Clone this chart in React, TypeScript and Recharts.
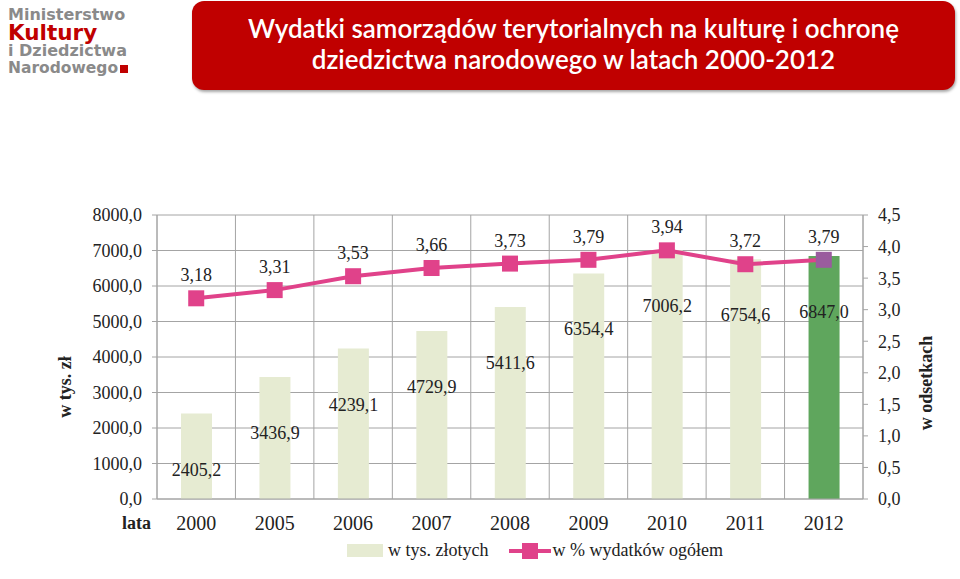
import React from 'react';
import {
  ComposedChart,
  Bar,
  Line,
  XAxis,
  YAxis,
  CartesianGrid,
  Cell,
  LabelList,
} from 'recharts';

const years = ['2000', '2005', '2006', '2007', '2008', '2009', '2010', '2011', '2012'];
const spendingThousandPln = [2405.2, 3436.9, 4239.1, 4729.9, 5411.6, 6354.4, 7006.2, 6754.6, 6847.0];
const sharePercent = [3.18, 3.31, 3.53, 3.66, 3.73, 3.79, 3.94, 3.72, 3.79];
const leftTicks = [0, 1000, 2000, 3000, 4000, 5000, 6000, 7000, 8000];
const rightTicks = [0, 0.5, 1, 1.5, 2, 2.5, 3, 3.5, 4, 4.5];

const title1 = 'Wydatki samorządów terytorialnych na kulturę i ochronę';
const title2 = 'dziedzictwa narodowego w latach 2000-2012';
const leftAxisTitle = 'w tys. zł';
const rightAxisTitle = 'w odsetkach';
const xAxisTitle = 'lata';
const legendBars = 'w tys. złotych';
const legendLine = 'w % wydatków ogółem';
const logoLines = ['Ministerstwo', 'Kultury', 'i Dziedzictwa', 'Narodowego'];

const data = years.map((y, i) => ({
  year: y,
  spending: spendingThousandPln[i],
  share: sharePercent[i],
}));

const SERIF = '"Liberation Serif", "Times New Roman", serif';
const LOGO_FONT = '"DejaVu Sans", sans-serif';
const LIGHT = '#e6ebd2';
const DARK = '#5fa65d';
const PINK = '#e0428a';
const PURPLE = '#9a5c9e';
const GRID = '#a4a4a4';
const TEXT = '#222';
const RED = '#c00000';
const LOGO_GREY = '#8a8a8a';

const fmt1 = (v: number) => v.toFixed(1).replace('.', ',');
const fmt2 = (v: number) => v.toFixed(2).replace('.', ',');

const BarLabel = (props: any) => {
  const { x, y, width, value } = props;
  return (
    <text
      x={x + width / 2}
      y={y + 62}
      textAnchor="middle"
      fontFamily={SERIF}
      fontSize={18}
      fill={TEXT}
    >
      {fmt1(Number(value))}
    </text>
  );
};

const SquareDot = (props: any) => {
  const { cx, cy, index } = props;
  if (cx == null || cy == null) return null;
  return (
    <rect
      key={`dot-${index}`}
      x={cx - 8}
      y={cy - 8}
      width={16}
      height={16}
      fill={index === years.length - 1 ? PURPLE : PINK}
    />
  );
};

const LataLabel = (props: any) => {
  const vb = props.viewBox || {};
  return (
    <text
      x={vb.x - 6}
      y={vb.y + 30}
      textAnchor="end"
      fontFamily={SERIF}
      fontWeight="bold"
      fontSize={18}
      fill={TEXT}
    >
      {xAxisTitle}
    </text>
  );
};

const LeftTitle = (props: any) => {
  const vb = props.viewBox || {};
  const cx = 65;
  const cy = vb.y + vb.height / 2 + 30;
  return (
    <text
      x={cx}
      y={cy}
      transform={`rotate(-90 ${cx} ${cy})`}
      textAnchor="middle"
      dominantBaseline="central"
      fontFamily={SERIF}
      fontWeight="bold"
      fontSize={18}
      fill={TEXT}
    >
      {leftAxisTitle}
    </text>
  );
};

const RightTitle = (props: any) => {
  const vb = props.viewBox || {};
  const cx = 926;
  const cy = vb.y + vb.height / 2 + 26;
  return (
    <text
      x={cx}
      y={cy}
      transform={`rotate(-90 ${cx} ${cy})`}
      textAnchor="middle"
      dominantBaseline="central"
      fontFamily={SERIF}
      fontWeight="bold"
      fontSize={18}
      fill={TEXT}
    >
      {rightAxisTitle}
    </text>
  );
};

const logoLineStyle = (
  top: number,
  size: number,
  lineHeight: number,
  color: string
): React.CSSProperties => ({
  position: 'absolute',
  left: 8,
  top,
  fontFamily: LOGO_FONT,
  fontWeight: 'bold',
  fontSize: size,
  lineHeight: `${lineHeight}px`,
  height: lineHeight,
  color,
  whiteSpace: 'nowrap',
});

export default function App() {
  return (
    <div
      style={{
        position: 'absolute',
        left: 0,
        top: 0,
        width: 960,
        height: 579,
        background: '#ffffff',
        overflow: 'hidden',
      }}
    >
      {/* Logo */}
      <div style={logoLineStyle(7.5, 16, 14, LOGO_GREY)}>{logoLines[0]}</div>
      <div style={logoLineStyle(23, 21.5, 19, RED)}>{logoLines[1]}</div>
      <div style={logoLineStyle(43.5, 16, 14, LOGO_GREY)}>{logoLines[2]}</div>
      <div style={logoLineStyle(60.5, 15.5, 14, LOGO_GREY)}>
        {logoLines[3]}
        <span
          style={{
            display: 'inline-block',
            width: 8,
            height: 8,
            background: RED,
            marginLeft: 2,
          }}
        />
      </div>

      {/* Title banner */}
      <div
        style={{
          position: 'absolute',
          left: 192,
          top: 1,
          width: 763,
          height: 89,
          background: RED,
          borderRadius: 12,
          boxShadow: '1px 2px 3px rgba(0,0,0,0.35)',
          color: '#ffffff',
          fontFamily: 'Lato, "Open Sans", sans-serif',
          fontWeight: 600,
          fontSize: 26,
          lineHeight: '31px',
          textAlign: 'center',
          paddingTop: 12,
          boxSizing: 'border-box',
        }}
      >
        <div>{title1}</div>
        <div>{title2}</div>
      </div>

      {/* Chart */}
      <div style={{ position: 'absolute', left: 0, top: 0 }}>
        <ComposedChart
          width={960}
          height={579}
          data={data}
          margin={{ top: 215, right: 37, bottom: 50, left: 77 }}
        >
          <CartesianGrid
            yAxisId="left"
            stroke={GRID}
            strokeWidth={1}
            verticalCoordinatesGenerator={({ offset }: any) => {
              const n = years.length;
              const pts: number[] = [];
              for (let i = 0; i <= n; i++) pts.push(offset.left + (i * offset.width) / n);
              return pts;
            }}
          />
          <XAxis
            dataKey="year"
            height={30}
            axisLine={{ stroke: GRID }}
            tickLine={false}
            tickMargin={11}
            tick={{ fontFamily: SERIF, fontSize: 20, fill: TEXT }}
            interval={0}
            label={<LataLabel />}
          />
          <YAxis
            yAxisId="left"
            orientation="left"
            width={80}
            domain={[0, 8000]}
            ticks={leftTicks}
            tickFormatter={fmt1}
            axisLine={{ stroke: GRID }}
            tickLine={{ stroke: GRID }}
            tickSize={5}
            tickMargin={10}
            tick={{ fontFamily: SERIF, fontSize: 18, fill: TEXT }}
            interval={0}
            label={<LeftTitle />}
          />
          <YAxis
            yAxisId="right"
            orientation="right"
            width={60}
            domain={[0, 4.5]}
            ticks={rightTicks}
            tickFormatter={fmt1}
            axisLine={{ stroke: GRID }}
            tickLine={{ stroke: GRID }}
            tickSize={5}
            tickMargin={10}
            tick={{ fontFamily: SERIF, fontSize: 18, fill: TEXT }}
            interval={0}
            label={<RightTitle />}
          />
          <Bar
            yAxisId="left"
            dataKey="spending"
            barSize={31}
            isAnimationActive={false}
          >
            {data.map((d, i) => (
              <Cell key={d.year} fill={i === years.length - 1 ? DARK : LIGHT} />
            ))}
            <LabelList dataKey="spending" content={<BarLabel />} />
          </Bar>
          <Line
            yAxisId="right"
            dataKey="share"
            stroke={PINK}
            strokeWidth={4}
            dot={<SquareDot />}
            activeDot={false}
            isAnimationActive={false}
          >
            <LabelList
              dataKey="share"
              position="top"
              offset={17}
              formatter={(v: any) => fmt2(Number(v))}
              style={{ fontFamily: SERIF, fontSize: 18, fill: TEXT }}
            />
          </Line>
        </ComposedChart>
      </div>

      {/* Legend */}
      <div
        style={{
          position: 'absolute',
          left: 347,
          top: 540,
          display: 'flex',
          alignItems: 'center',
          fontFamily: SERIF,
          fontSize: 18,
          color: TEXT,
          whiteSpace: 'nowrap',
        }}
      >
        <span style={{ display: 'inline-block', width: 36, height: 13, background: LIGHT, marginRight: 5 }} />
        <span>{legendBars}</span>
        <svg width={44} height={20} style={{ marginLeft: 20 }}>
          <line x1={0} y1={10} x2={42} y2={10} stroke={PINK} strokeWidth={4} />
          <rect x={13} y={2} width={16} height={16} fill={PINK} />
        </svg>
        <span>{legendLine}</span>
      </div>
    </div>
  );
}
